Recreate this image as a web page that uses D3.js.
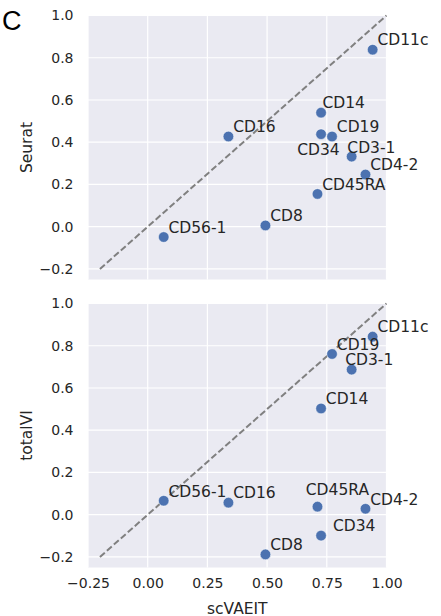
<!DOCTYPE html>
<html>
<head>
<meta charset="utf-8">
<script src="https://cdn.jsdelivr.net/npm/d3@7"></script>
<style>
  html, body { margin: 0; padding: 0; background: #ffffff; }
  svg { display: block; }
</style>
</head>
<body>
<svg id="chart" width="441" height="616"></svg>
<script>
// Per-protein correlation: scVAEIT (x) against Seurat and totalVI (y)
const proteins = ["CD11c", "CD14", "CD16", "CD19", "CD34", "CD3-1", "CD4-2", "CD45RA", "CD8", "CD56-1"];
const scVAEIT  = [0.942, 0.726, 0.338, 0.772, 0.726, 0.854, 0.912, 0.711, 0.493, 0.067];
const seurat   = [0.838, 0.540, 0.427, 0.427, 0.438, 0.332, 0.247, 0.155, 0.006, -0.049];
const totalVI  = [0.843, 0.503, 0.057, 0.761, -0.099, 0.687, 0.028, 0.038, -0.188, 0.066];

const xTicks = [-0.25, 0, 0.25, 0.5, 0.75, 1.0];
const yTicks = [-0.2, 0, 0.2, 0.4, 0.6, 0.8, 1.0];

// Label nudges (data units) where the default offset would collide
const seuratNudge  = { "CD14": [0.006, 0.02], "CD34": [-0.1, -0.1], "CD3-1": [-0.018, 0.016] };
const totalVINudge = { "CD3-1": [-0.027, 0.02], "CD45RA": [-0.049, 0.055], "CD34": [0.05, 0.02] };

const svg = d3.select("#chart");
const textColor = "#262626";
const font = "'DejaVu Sans', sans-serif";

const x = d3.scaleLinear().domain([-0.25, 1.0]).range([88, 386.5]);

function panel(top, yValues, yLabel, nudges, showX) {
  const y = d3.scaleLinear().domain([-0.25, 1.0]).range([top + 264, top]);
  const g = svg.append("g");

  g.append("rect")
    .attr("x", x.range()[0]).attr("y", top)
    .attr("width", x.range()[1] - x.range()[0]).attr("height", 264)
    .attr("fill", "#eaeaf2");

  // grid
  g.selectAll(".vg").data(xTicks).join("line")
    .attr("x1", d => x(d)).attr("x2", d => x(d))
    .attr("y1", top).attr("y2", top + 264)
    .attr("stroke", "#ffffff").attr("stroke-width", 1.2);
  g.selectAll(".hg").data(yTicks).join("line")
    .attr("y1", d => y(d)).attr("y2", d => y(d))
    .attr("x1", x.range()[0]).attr("x2", x.range()[1])
    .attr("stroke", "#ffffff").attr("stroke-width", 1.2);

  // y axis ticks
  const yAxis = d3.axisLeft(y).tickValues(yTicks).tickSize(0).tickPadding(14.5)
    .tickFormat(d3.format(".1f"));
  const ya = g.append("g").attr("transform", `translate(${x.range()[0]},0)`).call(yAxis);
  ya.select(".domain").remove();
  ya.selectAll("text").attr("fill", textColor).style("font-family", font).style("font-size", "14px");

  if (showX) {
    const xAxis = d3.axisBottom(x).tickValues(xTicks).tickSize(0).tickPadding(11)
      .tickFormat(d3.format(".2f"));
    const xa = g.append("g").attr("transform", `translate(0,${top + 264})`).call(xAxis);
    xa.select(".domain").remove();
    xa.selectAll("text").attr("fill", textColor).style("font-family", font).style("font-size", "14px");
    g.append("text")
      .attr("x", (x.range()[0] + x.range()[1]) / 2).attr("y", 613.5)
      .attr("text-anchor", "middle").attr("fill", textColor)
      .style("font-family", font).style("font-size", "15.5px")
      .text("scVAEIT");
  }

  // y axis title
  g.append("text")
    .attr("transform", `translate(31.5,${top + 132}) rotate(-90)`)
    .attr("text-anchor", "middle").attr("fill", textColor)
    .style("font-family", font).style("font-size", "15.5px")
    .text(yLabel);

  // identity line
  g.append("line")
    .attr("x1", x(-0.2)).attr("y1", y(-0.2))
    .attr("x2", x(1.0)).attr("y2", y(1.0))
    .attr("stroke", "#808080").attr("stroke-width", 2)
    .attr("stroke-dasharray", "6.5,2.8");

  const pts = proteins.map((p, i) => ({ name: p, x: scVAEIT[i], y: yValues[i] }));

  g.selectAll(".pt").data(pts).join("circle")
    .attr("cx", d => x(d.x)).attr("cy", d => y(d.y)).attr("r", 5.3)
    .attr("fill", "#4c72b0").attr("stroke", "#ffffff").attr("stroke-width", 0.5);

  g.selectAll(".lbl").data(pts).join("text")
    .attr("x", d => x(d.x + (nudges[d.name] ? nudges[d.name][0] : 0.02)))
    .attr("y", d => y(d.y + (nudges[d.name] ? nudges[d.name][1] : 0.02)))
    .attr("fill", textColor)
    .style("font-family", font).style("font-size", "15.5px")
    .text(d => d.name);
}

panel(15.5, seurat, "Seurat", seuratNudge, false);
panel(303.5, totalVI, "totalVI", totalVINudge, true);

// panel letter
svg.append("text")
  .attr("x", 2).attr("y", 29.5)
  .attr("fill", "#000000")
  .style("font-family", "'Liberation Sans', Arial, sans-serif").style("font-size", "27px")
  .text("C");
</script>
</body>
</html>
